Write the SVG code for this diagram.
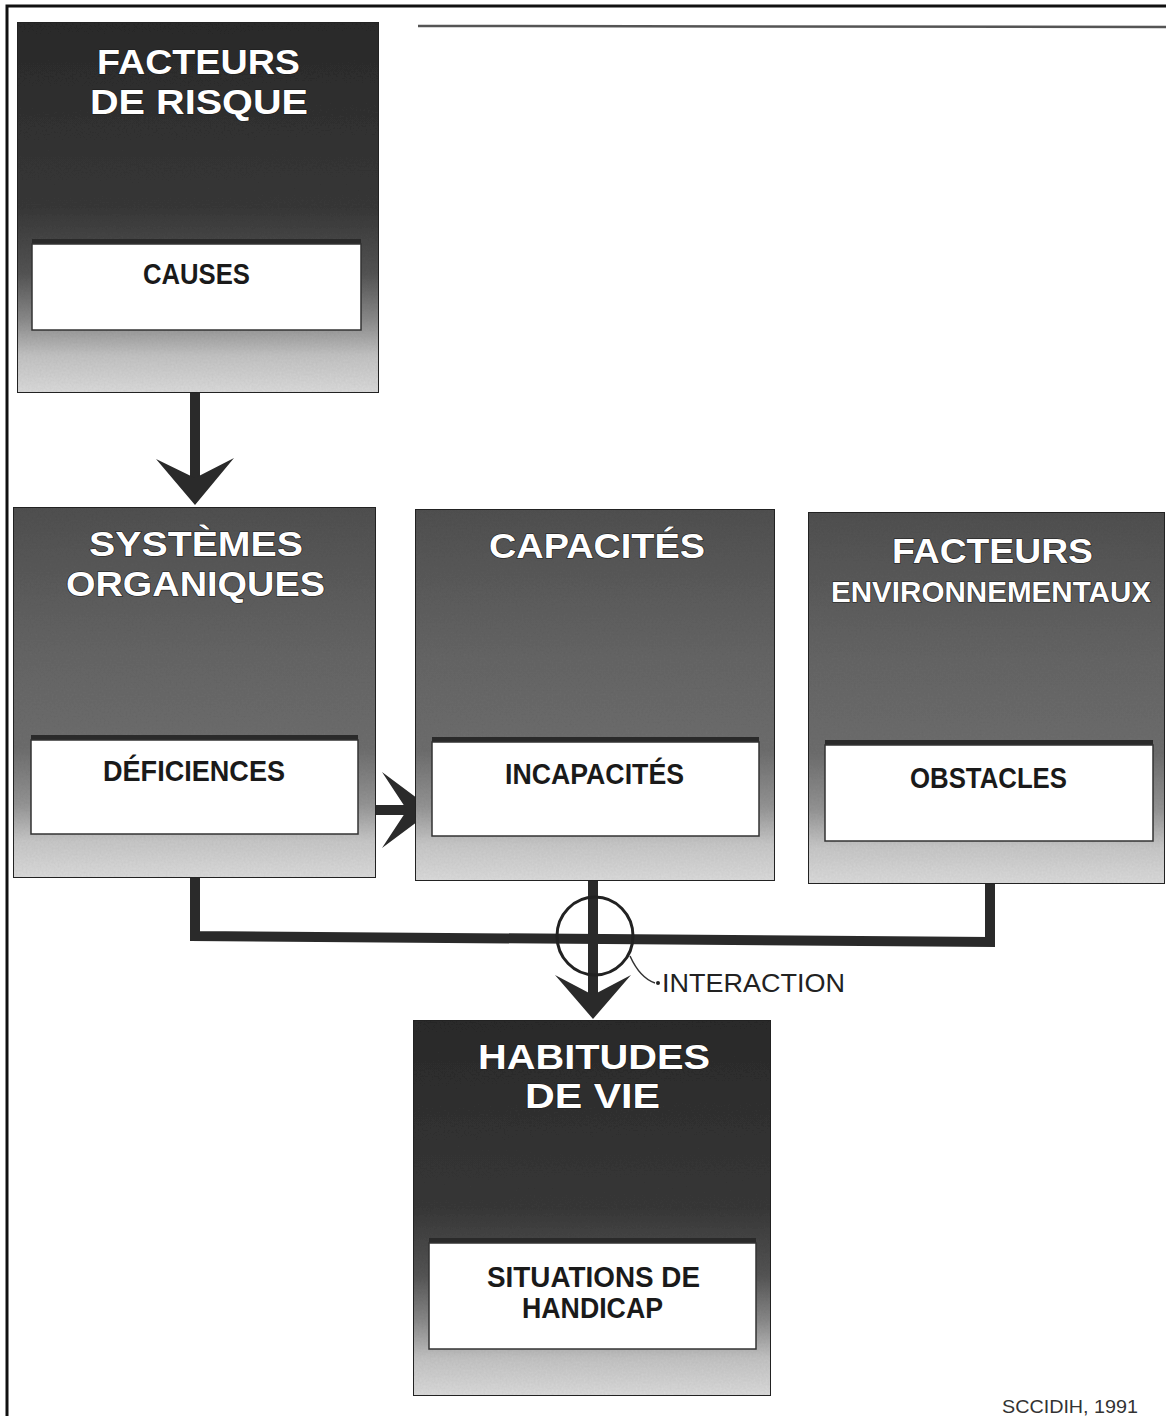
<svg xmlns="http://www.w3.org/2000/svg" width="1166" height="1416" viewBox="0 0 1166 1416">
<style>
.box{stroke:#222;stroke-width:2}
.inner{fill:#fff;stroke:#333;stroke-width:1.5}
.shade{fill:#2a2a2a}
.title{font-family:"Liberation Sans",Arial,sans-serif;font-weight:bold;font-size:35px;fill:#fff;stroke:#1a1a1a;stroke-width:1.2;paint-order:stroke}
.lbl{font-family:"Liberation Sans",Arial,sans-serif;font-weight:bold;font-size:29px;fill:#1a1a1a}
.conn{fill:none;stroke:#2a2a2a;stroke-width:10}
.head{fill:#2a2a2a}
.note{font-family:"Liberation Sans",Arial,sans-serif;font-size:25px;fill:#222}
.src{font-family:"Liberation Sans",Arial,sans-serif;font-size:18px;fill:#333}
</style>
<defs>
<linearGradient id="gDark" x1="0" y1="0" x2="0" y2="1">
<stop offset="0" stop-color="#2a2a2a"/>
<stop offset="0.5" stop-color="#383838"/>
<stop offset="0.68" stop-color="#555"/>
<stop offset="0.8" stop-color="#8a8a8a"/>
<stop offset="0.9" stop-color="#c4c4c4"/>
<stop offset="1" stop-color="#dcdcdc"/>
</linearGradient>
<linearGradient id="gMid" x1="0" y1="0" x2="0" y2="1">
<stop offset="0" stop-color="#505050"/>
<stop offset="0.4" stop-color="#666"/>
<stop offset="0.65" stop-color="#6e6e6e"/>
<stop offset="0.8" stop-color="#959595"/>
<stop offset="0.9" stop-color="#c8c8c8"/>
<stop offset="1" stop-color="#dcdcdc"/>
</linearGradient>
<filter id="grain" x="0" y="0" width="1" height="1">
<feTurbulence type="fractalNoise" baseFrequency="0.5" numOctaves="2" seed="3" result="n"/>
<feColorMatrix in="n" type="matrix" values="0 0 0 0 0.5  0 0 0 0 0.5  0 0 0 0 0.5  0 0 0 0.25 0" result="g"/>
<feComposite in="g" in2="SourceGraphic" operator="in" result="gc"/>
<feBlend in="SourceGraphic" in2="gc" mode="multiply"/>
</filter>
</defs>
<rect x="0" y="0" width="1166" height="1416" fill="#fff"/>
<path d="M7,1416 V6 H1166" fill="none" stroke="#111" stroke-width="3"/>
<line x1="418" y1="26" x2="1166" y2="27" stroke="#555" stroke-width="2.5"/>

<g id="connectors">
<line class="conn" x1="195" y1="330" x2="195" y2="482"/>
<path class="head" d="M195,505 L156,459 L195,478 L234,458 Z"/>
<line class="conn" x1="358" y1="810" x2="410" y2="810"/>
<path class="head" d="M433,810 L382,772 L407,810 L382,848 Z"/>
<polyline class="conn" points="195,834 195,936 990,942 990,841"/>
<line class="conn" x1="593" y1="836" x2="593" y2="998"/>
<path class="head" d="M593,1019 L555,975 L593,995 L631,975 Z"/>
<ellipse cx="595" cy="936" rx="38" ry="39" fill="none" stroke="#222" stroke-width="3"/>
<path d="M630,956 Q640,978 655,983" fill="none" stroke="#333" stroke-width="1.5"/>
<circle cx="658" cy="983" r="2" fill="#222"/>
</g>

<g id="facteurs-risque">
<rect class="box" x="17" y="22" width="362" height="371" fill="url(#gDark)" filter="url(#grain)"/>
<rect class="shade" x="32" y="239" width="329" height="8"/>
<rect class="inner" x="32" y="244" width="329" height="86"/>
<text class="title" x="97" y="74" textLength="203" lengthAdjust="spacingAndGlyphs">FACTEURS</text>
<text class="title" x="90" y="114" textLength="218" lengthAdjust="spacingAndGlyphs">DE RISQUE</text>
<text class="lbl" x="143" y="284" textLength="107" lengthAdjust="spacingAndGlyphs">CAUSES</text>
</g>

<g id="systemes-organiques">
<rect class="box" x="13" y="507" width="363" height="371" fill="url(#gMid)" filter="url(#grain)"/>
<rect class="shade" x="31" y="735" width="327" height="8"/>
<rect class="inner" x="31" y="740" width="327" height="94"/>
<text class="title" x="89" y="556" textLength="214" lengthAdjust="spacingAndGlyphs">SYSTÈMES</text>
<text class="title" x="66" y="596" textLength="259" lengthAdjust="spacingAndGlyphs">ORGANIQUES</text>
<text class="lbl" x="103" y="781" textLength="182" lengthAdjust="spacingAndGlyphs">DÉFICIENCES</text>
</g>

<g id="capacites">
<rect class="box" x="415" y="509" width="360" height="372" fill="url(#gMid)" filter="url(#grain)"/>
<rect class="shade" x="432" y="737" width="327" height="8"/>
<rect class="inner" x="432" y="742" width="327" height="94"/>
<text class="title" x="489" y="558" textLength="216" lengthAdjust="spacingAndGlyphs">CAPACITÉS</text>
<text class="lbl" x="505" y="784" textLength="179" lengthAdjust="spacingAndGlyphs">INCAPACITÉS</text>
</g>

<g id="facteurs-environnementaux">
<rect class="box" x="808" y="512" width="357" height="372" fill="url(#gMid)" filter="url(#grain)"/>
<rect class="shade" x="825" y="740" width="328" height="8"/>
<rect class="inner" x="825" y="745" width="328" height="96"/>
<text class="title" x="892" y="563" textLength="201" lengthAdjust="spacingAndGlyphs">FACTEURS</text>
<text class="title" x="831" y="602" style="font-size:30px" textLength="320" lengthAdjust="spacingAndGlyphs">ENVIRONNEMENTAUX</text>
<text class="lbl" x="910" y="788" textLength="157" lengthAdjust="spacingAndGlyphs">OBSTACLES</text>
</g>

<g id="habitudes-de-vie">
<rect class="box" x="413" y="1020" width="358" height="376" fill="url(#gDark)" filter="url(#grain)"/>
<rect class="shade" x="429" y="1238" width="327" height="8"/>
<rect class="inner" x="429" y="1243" width="327" height="106"/>
<text class="title" x="478" y="1069" textLength="232" lengthAdjust="spacingAndGlyphs">HABITUDES</text>
<text class="title" x="525" y="1108" textLength="135" lengthAdjust="spacingAndGlyphs">DE VIE</text>
<text class="lbl" x="487" y="1287" textLength="213" lengthAdjust="spacingAndGlyphs">SITUATIONS DE</text>
<text class="lbl" x="522" y="1318" textLength="141" lengthAdjust="spacingAndGlyphs">HANDICAP</text>
</g>

<g id="labels">
<text class="note" x="662" y="992" textLength="183" lengthAdjust="spacingAndGlyphs">INTERACTION</text>
<text class="src" x="1002" y="1413" textLength="136" lengthAdjust="spacingAndGlyphs">SCCIDIH, 1991</text>
</g>
</svg>
